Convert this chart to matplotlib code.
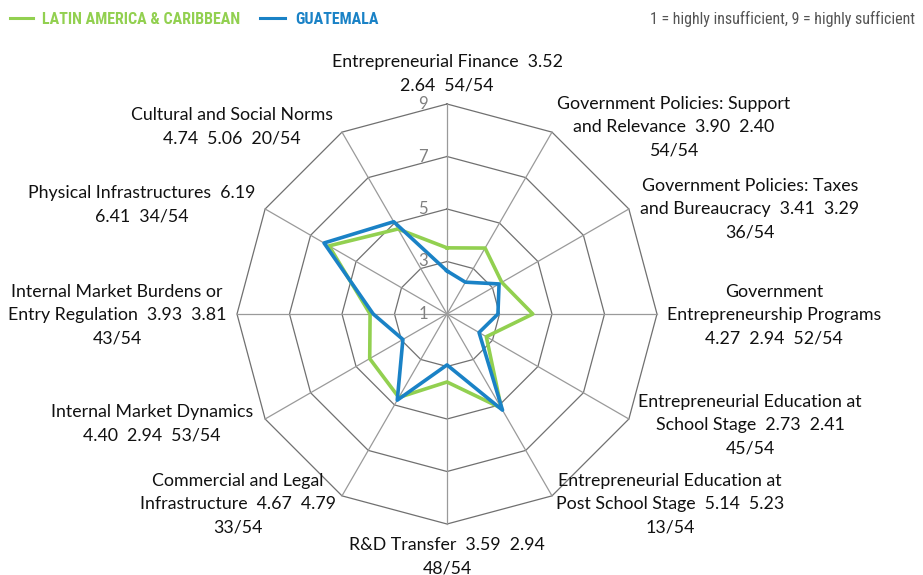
import numpy as np
import matplotlib
matplotlib.use("Agg")
import matplotlib.pyplot as plt
from matplotlib import font_manager

categories = [
    "Entrepreneurial Finance",
    "Government Policies: Support\nand Relevance",
    "Government Policies: Taxes\nand Bureaucracy",
    "Government\nEntrepreneurship Programs",
    "Entrepreneurial Education at\nSchool Stage",
    "Entrepreneurial Education at\nPost School Stage",
    "R&D Transfer",
    "Commercial and Legal\nInfrastructure",
    "Internal Market Dynamics",
    "Internal Market Burdens or\nEntry Regulation",
    "Physical Infrastructures",
    "Cultural and Social Norms",
]
lac = [3.52, 3.90, 3.41, 4.27, 2.73, 5.14, 3.59, 4.67, 4.40, 3.93, 6.19, 4.74]
guatemala = [2.64, 2.40, 3.29, 2.94, 2.41, 5.23, 2.94, 4.79, 2.94, 3.81, 6.41, 5.06]
ranks = [54, 54, 36, 52, 45, 13, 48, 33, 53, 43, 34, 20]
n_total = 54
r_ticks = [1, 3, 5, 7, 9]
series_names = ["LATIN AMERICA & CARIBBEAN", "GUATEMALA"]
scale_note = "1 = highly insufficient, 9 = highly sufficient"

# label layout templates and pixel centres
templates = [
    "{n}  {a}\n{b}  {r}/{t}",
    "{n}  {a}  {b}\n{r}/{t}",
    "{n}  {a}  {b}\n{r}/{t}",
    "{n}\n{a}  {b}  {r}/{t}",
    "{n}  {a}  {b}\n{r}/{t}",
    "{n}  {a}  {b}\n{r}/{t}",
    "{n}  {a}  {b}\n{r}/{t}",
    "{n}  {a}  {b}\n{r}/{t}",
    "{n}\n{a}  {b}  {r}/{t}",
    "{n}  {a}  {b}\n{r}/{t}",
    "{n}  {a}\n{b}  {r}/{t}",
    "{n}\n{a}  {b}  {r}/{t}",
]
label_pos = [(447, 74), (674, 127), (750, 209), (774, 315), (750, 425), (670, 504),
             (447, 557), (238, 504), (152, 424), (117, 315), (142, 205), (232, 127)]

W, H = 923, 575
GREEN = "#92D050"
BLUE = "#1A82C6"
LABEL_FONT = "Lato"

avail = {f.name for f in font_manager.fontManager.ttflist}
cond = "DejaVu Sans"
for c in ["Roboto Condensed", "Liberation Sans Narrow", "Open Sans Condensed",
          "Noto Sans Condensed", "Arial Narrow", "DejaVu Sans Condensed"]:
    if c in avail:
        cond = c
        break

fig = plt.figure(figsize=(W / 100, H / 100), dpi=100)
cx, cy, R = 447, 314, 210
ax = fig.add_axes([(cx - R) / W, (H - cy - R) / H, 2 * R / W, 2 * R / H], projection="polar")
ax.set_theta_zero_location("N")
ax.set_theta_direction(-1)
ax.set_ylim(1, 9)
ax.axis("off")

N = len(categories)
theta = np.arange(N) * 2 * np.pi / N
tc = np.append(theta, theta[0])

for rv in r_ticks[1:]:
    ax.plot(tc, [rv] * (N + 1), color="#707070", lw=0.9, zorder=1, clip_on=False)
for t in theta:
    ax.plot([t, t], [1, 9], color="#9a9a9a", lw=0.9, zorder=1, clip_on=False)

ax.plot(tc, lac + lac[:1], color=GREEN, lw=2.6, zorder=3, clip_on=False)
ax.plot(tc, guatemala + guatemala[:1], color=BLUE, lw=2.6, zorder=4, clip_on=False)

for rv in r_ticks:
    ax.annotate(str(rv), xy=(0, rv), xytext=(-24, 0), textcoords="offset pixels",
                ha="center", va="center", fontsize=12, color="#808080",
                family=LABEL_FONT, zorder=5)

for i in range(N):
    txt = templates[i].format(n=categories[i], a=f"{lac[i]:.2f}", b=f"{guatemala[i]:.2f}",
                              r=ranks[i], t=n_total)
    x, y = label_pos[i]
    fig.text(x / W, 1 - y / H, txt, ha="center", va="center", multialignment="center",
             fontsize=12.8, family=LABEL_FONT, color="#111111", linespacing=1.55)

# legend (positions adapt to the width of the condensed font)
fig.canvas.draw()
rend = fig.canvas.get_renderer()
ly = 1 - 18 / H
fig.add_artist(plt.Line2D([10 / W, 33 / W], [ly] * 2, color=GREEN, lw=2.2))
t1 = fig.text(42 / W, 1 - 19 / H, series_names[0], color=GREEN, fontsize=11.5, fontweight="bold",
              family=cond, va="center", ha="left")
w1 = t1.get_window_extent(rend).width
x2 = 42 + w1 + 20
fig.add_artist(plt.Line2D([x2 / W, (x2 + 25) / W], [ly] * 2, color=BLUE, lw=2.2))
t2 = fig.text((x2 + 35) / W, 1 - 19 / H, series_names[1], color=BLUE, fontsize=11.5,
              fontweight="bold", family=cond, va="center", ha="left")
t3 = fig.text(915 / W, 1 - 19 / H, scale_note, color="#555555", fontsize=11.5,
              family=cond, va="center", ha="right")

fig.savefig("out.png", dpi=100)
